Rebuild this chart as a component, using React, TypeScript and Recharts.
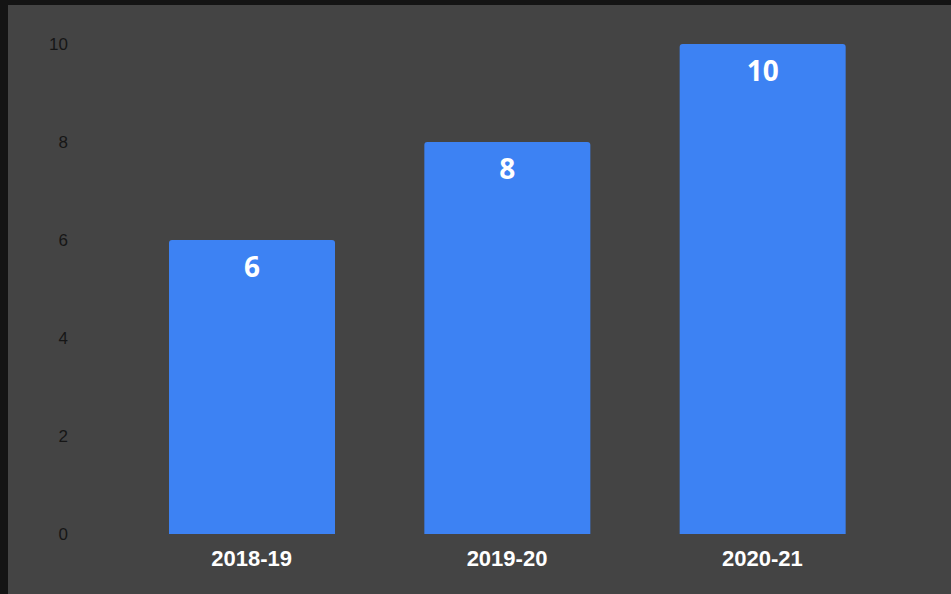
import React from 'react';
import { BarChart, Bar, XAxis, YAxis, LabelList } from 'recharts';

const seasons = ['2018-19', '2019-20', '2020-21'];
const counts = [6, 8, 10];
const yTicks = [0, 2, 4, 6, 8, 10];

const data = seasons.map((season, i) => ({ season, count: counts[i] }));

export default function App() {
  return (
    <div style={{ position: 'fixed', left: 0, top: 0, width: 951, height: 594, background: '#141414', overflow: 'hidden' }}>
      <div style={{ position: 'absolute', left: 8, top: 5, width: 943, height: 589, background: '#444444' }} />
      <div style={{ position: 'absolute', left: 0, top: 0 }}>
        <BarChart
          width={951}
          height={594}
          data={data}
          margin={{ top: 44, right: 61, left: 0, bottom: 30 }}
          barSize={166}
        >
          <XAxis
            dataKey="season"
            height={30}
            axisLine={false}
            tickLine={false}
            tickSize={0}
            tickMargin={16}
            tick={{ fill: '#ffffff', fontSize: 22, fontWeight: 700, fontFamily: '"Liberation Sans", Arial, sans-serif' }}
          />
          <YAxis
            width={124}
            domain={[0, 10]}
            ticks={yTicks}
            axisLine={false}
            tickLine={false}
            tickSize={0}
            tickMargin={56}
            tick={{ fill: '#161616', fontSize: 17, fontFamily: '"Liberation Sans", Arial, sans-serif' }}
          />
          <Bar dataKey="count" fill="#3d82f3" radius={[3, 3, 0, 0]} isAnimationActive={false}>
            <LabelList
              dataKey="count"
              position="insideTop"
              offset={17}
              fill="#ffffff"
              style={{ fontSize: 28, fontWeight: 700, fontFamily: '"Open Sans", sans-serif' }}
            />
          </Bar>
        </BarChart>
      </div>
    </div>
  );
}
